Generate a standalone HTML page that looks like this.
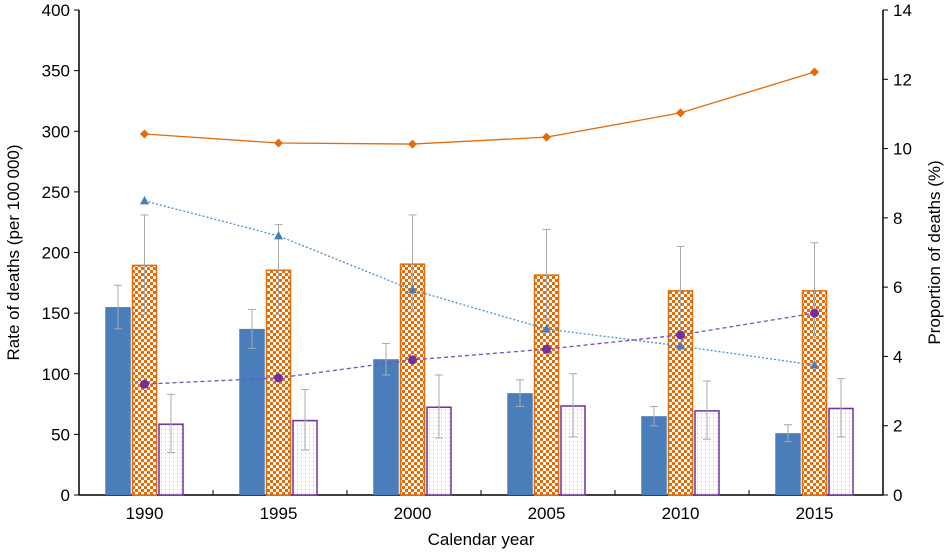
<!DOCTYPE html>
<html><head><meta charset="utf-8"><style>
body{margin:0;background:#fff;}
svg{display:block;font-family:"Liberation Sans",Arial,sans-serif;}
</style></head><body>
<svg id="chart" width="946" height="554" viewBox="0 0 946 554" xmlns="http://www.w3.org/2000/svg">
<defs>
<pattern id="checker" width="6" height="6" patternUnits="userSpaceOnUse">
<rect width="6" height="6" fill="#fff"/>
<rect width="3" height="3" fill="#e36c0a"/>
<rect x="3" y="3" width="3" height="3" fill="#e36c0a"/>
</pattern>
<pattern id="dots" width="4" height="4" patternUnits="userSpaceOnUse">
<rect width="4" height="4" fill="#fff"/>
<rect x="1" y="1" width="1" height="1" fill="#c9a6dc"/>
</pattern>
</defs>
<g id="plot"></g>
</svg>
<script>
const years = ["1990","1995","2000","2005","2010","2015"];
const blueRate = [155, 137, 112, 84, 65, 51];
const blueErr = [18, 16, 13, 11, 8, 7];
const orangeRate = [190, 186, 191, 182, 169, 169];
const orangeErr = [41, 37, 40, 37, 36, 39];
const purpleRate = [59, 62, 73, 74, 70, 72];
const purpleErr = [24, 25, 26, 26, 24, 24];
const orangeProp = [10.42, 10.16, 10.13, 10.33, 11.03, 12.21];
const blueProp = [8.49, 7.48, 5.92, 4.79, 4.30, 3.75];
const purpleProp = [3.2, 3.38, 3.9, 4.21, 4.62, 5.25];
const leftTicks = [0,50,100,150,200,250,300,350,400];
const rightTicks = [0,2,4,6,8,10,12,14];

const NS="http://www.w3.org/2000/svg";
const g=document.getElementById('plot');
const L=79,R=883,B=495,T=10;
const band=(R-L)/years.length;
const yL=v=>B-(v/400)*(B-T);
const yR=v=>B-(v/14)*(B-T);
const xC=i=>L+band*(i+0.5)-1.5;
function mk(tag,attrs,parent){const e=document.createElementNS(NS,tag);for(const k in attrs)e.setAttribute(k,attrs[k]);(parent||g).appendChild(e);return e;}

let e;
e=mk('line',{x1:L,y1:T,x2:L,y2:B,stroke:'#000','stroke-width':1.5});


e=mk('line',{x1:R,y1:T,x2:R,y2:B,stroke:'#000','stroke-width':1.5});


e=mk('line',{x1:L,y1:B,x2:R,y2:B,stroke:'#000','stroke-width':1.5});



leftTicks.forEach(v=>{
  mk('line',{x1:L-5,y1:yL(v),x2:L,y2:yL(v),stroke:'#000'});
  const t=mk('text',{x:L-9,y:yL(v)+6,'text-anchor':'end','font-size':17});
  t.textContent=v;
  
  
});
rightTicks.forEach(v=>{
  mk('line',{x1:R,y1:yR(v),x2:R+5,y2:yR(v),stroke:'#000'});
  const t=mk('text',{x:R+10,y:yR(v)+6,'text-anchor':'start','font-size':17});
  t.textContent=v;
  
  
});
for(let i=0;i<=years.length;i++){
  mk('line',{x1:L+band*i,y1:B-5,x2:L+band*i,y2:B,stroke:'#000'});
}
years.forEach((y,i)=>{
  const t=mk('text',{x:xC(i),y:B+24,'text-anchor':'middle','font-size':17});
  t.textContent=y;
  
  
});

const bw=25.5;
function errBar(x,v,er){
  mk('line',{x1:x,y1:yL(v-er),x2:x,y2:yL(v+er),stroke:'#aaa','stroke-width':1});
  mk('line',{x1:x-4,y1:yL(v+er),x2:x+4,y2:yL(v+er),stroke:'#aaa','stroke-width':1});
  mk('line',{x1:x-4,y1:yL(v-er),x2:x+4,y2:yL(v-er),stroke:'#aaa','stroke-width':1});
}
years.forEach((y,i)=>{
  const c=xC(i);
  const x0=c-bw*1.5-1;
  let r=mk('rect',{x:x0,y:yL(blueRate[i]),width:bw,height:B-yL(blueRate[i]),fill:'#4a7ebb'});
  
  
  errBar(x0+bw/2,blueRate[i],blueErr[i]);
  const x1=c-bw/2;
  r=mk('rect',{x:x1+0.75,y:yL(orangeRate[i])+0.75,width:bw-1.5,height:B-yL(orangeRate[i])-0.75,fill:'url(#checker)',stroke:'#e36c0a','stroke-width':1.5});
  
  
  errBar(c,orangeRate[i],orangeErr[i]);
  const x2=c+bw/2+1;
  r=mk('rect',{x:x2+0.75,y:yL(purpleRate[i])+0.75,width:bw-1.5,height:B-yL(purpleRate[i])-0.75,fill:'url(#dots)',stroke:'#7030a0','stroke-width':1.5});
  
  
  errBar(x2+bw/2,purpleRate[i],purpleErr[i]);
});

function series(vals,color,dash,name){
  const p=mk('polyline',{points:vals.map((v,i)=>xC(i)+','+yR(v)).join(' '),fill:'none',stroke:color,'stroke-width':1.3,'stroke-dasharray':dash});
  
  
  return p;
}
series(orangeProp,'#e36c0a','', 'orange-proportion');
series(blueProp,'#4a90d0','2,2','blue-proportion');
series(purpleProp,'#7a4fc0','4,3','purple-proportion');
orangeProp.forEach((v,i)=>{
  const x=xC(i),y=yR(v);
  const m=mk('polygon',{points:`${x},${y-4.5} ${x+4.5},${y} ${x},${y+4.5} ${x-4.5},${y}`,fill:'#e36c0a'});
  
  
});
blueProp.forEach((v,i)=>{
  const x=xC(i),y=yR(v);
  const m=mk('polygon',{points:`${x},${y-5} ${x+4.5},${y+3.5} ${x-4.5},${y+3.5}`,fill:'#4a7ebb'});
  
  
});
purpleProp.forEach((v,i)=>{
  const m=mk('circle',{cx:xC(i),cy:yR(v),r:4.5,fill:'#7030a0'});
  
  
});

let t=mk('text',{x:0,y:0,'text-anchor':'middle','font-size':17,transform:`translate(19,${(T+B)/2}) rotate(-90)`});
t.textContent='Rate of deaths (per 100\u2009000)';


t=mk('text',{x:0,y:0,'text-anchor':'middle','font-size':17,transform:`translate(940,${(T+B)/2}) rotate(-90)`});
t.textContent='Proportion of deaths (%)';


t=mk('text',{x:(L+R)/2,y:545,'text-anchor':'middle','font-size':17});
t.textContent='Calendar year';


</script>
</body></html>
